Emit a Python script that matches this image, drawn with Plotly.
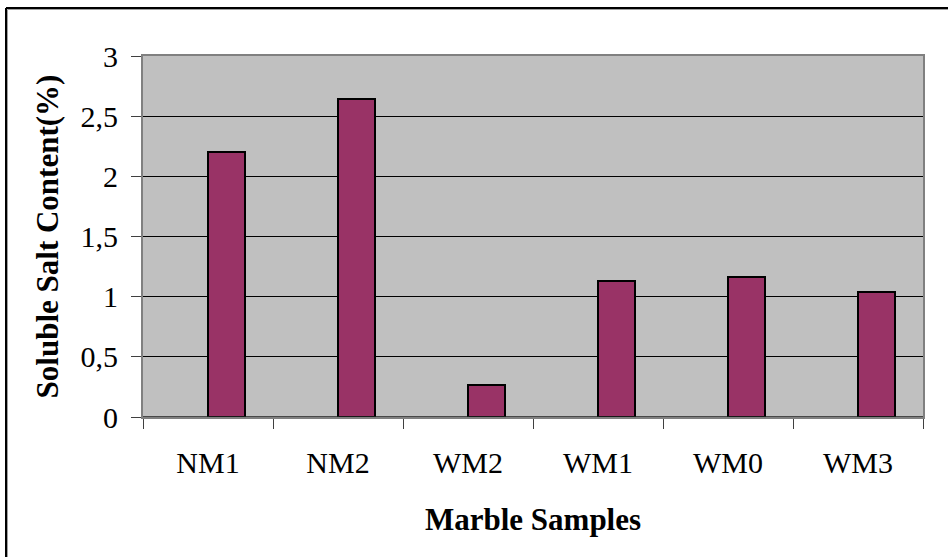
import plotly.graph_objects as go

# Soluble salt content of marble samples
samples = ["NM1", "NM2", "WM2", "WM1", "WM0", "WM3"]
salt_content = [2.20, 2.64, 0.27, 1.13, 1.16, 1.04]

y_tickvals = [0, 0.5, 1, 1.5, 2, 2.5, 3]
y_ticktext = ["0", "0,5", "1", "1,5", "2", "2,5", "3"]

W, H = 948, 557
ML, MR, MT, MB = 143, 25, 56, 140
PW, PH = W - ML - MR, H - MT - MB


def px_x(px):
    return (px - ML) / PW


def px_y(py):
    return (H - MB - py) / PH


FONT = "Liberation Serif, Times New Roman, serif"

fig = go.Figure(
    go.Bar(
        x=samples,
        y=salt_content,
        offset=0,
        width=0.285,
        marker=dict(color="#993366", line=dict(color="black", width=2)),
        showlegend=False,
    )
)

fig.update_layout(
    width=W,
    height=H,
    margin=dict(l=ML, r=MR, t=MT, b=MB),
    paper_bgcolor="white",
    plot_bgcolor="#C0C0C0",
    font=dict(family=FONT, size=30, color="black"),
    xaxis=dict(
        range=[-0.5, 5.5],
        tickson="boundaries",
        ticks="outside",
        ticklen=10,
        tickcolor="#404040",
        tickwidth=1,
        showgrid=False,
        showline=True,
        mirror=True,
        linecolor="#808080",
        linewidth=2,
        ticklabelstandoff=18,
        tickfont=dict(size=30),
        title=dict(
            text="<b>Marble Samples</b>",
            font=dict(size=31),
            standoff=30,
        ),
    ),
    yaxis=dict(
        range=[0, 3],
        tickvals=y_tickvals,
        ticktext=y_ticktext,
        ticks="outside",
        ticklen=10,
        tickcolor="#404040",
        tickwidth=1,
        showgrid=True,
        gridcolor="black",
        gridwidth=1,
        zeroline=False,
        showline=True,
        mirror=True,
        linecolor="#808080",
        linewidth=2,
        ticklabelstandoff=7,
        tickfont=dict(size=30),
        title=dict(
            text="<b>Soluble Salt Content(%)</b>",
            font=dict(size=31),
            standoff=13,
        ),
    ),
    bargap=0,
)

# baseline of the category axis
fig.add_shape(
    type="line", xref="paper", yref="y", x0=0, x1=1, y0=0, y1=0,
    line=dict(color="#202020", width=1.5), layer="above",
)

# chart frame along the top and left edges
fig.add_shape(
    type="line", xref="paper", yref="paper",
    x0=px_x(6), x1=px_x(W + 5), y0=px_y(8), y1=px_y(8),
    line=dict(color="black", width=2), layer="above",
)
fig.add_shape(
    type="line", xref="paper", yref="paper",
    x0=px_x(6), x1=px_x(6), y0=px_y(8), y1=px_y(H + 5),
    line=dict(color="black", width=2), layer="above",
)
fig.add_shape(
    type="line", xref="paper", yref="paper",
    x0=px_x(7.5), x1=px_x(W + 5), y0=px_y(9.5), y1=px_y(9.5),
    line=dict(color="#A0A0A0", width=1), layer="above",
)
fig.add_shape(
    type="line", xref="paper", yref="paper",
    x0=px_x(7.5), x1=px_x(7.5), y0=px_y(9.5), y1=px_y(H + 5),
    line=dict(color="#A0A0A0", width=1), layer="above",
)

fig.write_html("out.html")
